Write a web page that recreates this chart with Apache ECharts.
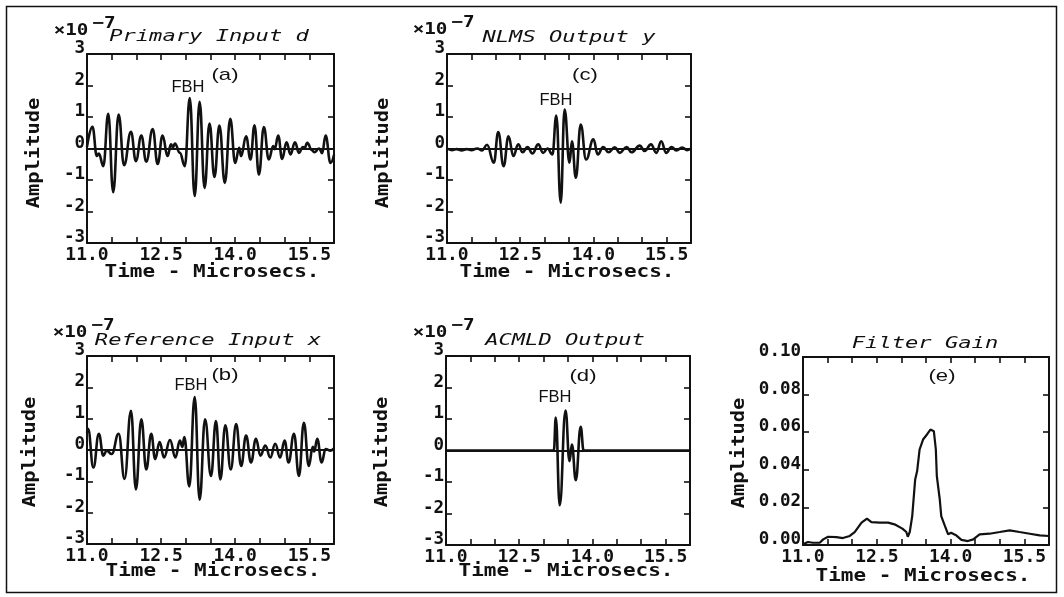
<!DOCTYPE html>
<html>
<head>
<meta charset="utf-8">
<title>Flat-bottom-hole echo: NLMS and ACMLD filtering</title>
<script src="https://cdn.jsdelivr.net/npm/echarts/dist/echarts.min.js"></script>
<style>
html, body { margin: 0; padding: 0; background: #fff; }
#chart { width: 1064px; height: 597px; }
</style>
</head>
<body>
<div id="chart"></div>
<script>
// ---- data -------------------------------------------------------------
// time axis in microseconds
const timeRange = [11.0, 16.0];
const timeTickStep = 0.5;
const timeLabels = [11.0, 12.5, 14.0, 15.5];
// amplitude axis, units of 1e-7
const ampRange = [-3, 3];
const ampTickStep = 1;
// filter gain axis
const gainRange = [0, 0.10];
const gainTickStep = 0.02;

// waveforms [time, amplitude x1e-7], taken at successive peaks and troughs
const primaryInputD = [
  [11.00, 0.05], [11.11, 0.69], [11.20, -0.24], [11.24, -0.16], [11.33, -0.56],
  [11.43, 1.10], [11.53, -1.39], [11.64, 1.08], [11.75, -0.53], [11.89, 0.53],
  [11.99, -0.40], [12.10, 0.41], [12.20, -0.42], [12.33, 0.62], [12.43, -0.49],
  [12.53, 0.41], [12.63, -0.24], [12.70, 0.13], [12.74, 0.04], [12.78, 0.16],
  [12.88, -0.14], [12.98, -0.56], [13.08, 1.60], [13.18, -1.51], [13.28, 1.48],
  [13.38, -1.25], [13.48, 0.79], [13.58, -0.90], [13.68, 0.73], [13.79, -1.09],
  [13.90, 0.94], [14.00, -0.46], [14.08, 0.02], [14.12, -0.24], [14.22, 0.39],
  [14.31, -0.35], [14.39, 0.74], [14.48, -0.83], [14.58, 0.68], [14.68, -0.35],
  [14.77, 0.08], [14.80, -0.02], [14.87, 0.41], [14.95, -0.33], [15.04, 0.20],
  [15.12, -0.19], [15.21, 0.20], [15.29, -0.14], [15.37, 0.05], [15.40, 0.00],
  [15.46, 0.18], [15.55, -0.05], [15.60, -0.12], [15.70, 0.00], [15.76, -0.15],
  [15.83, 0.41], [15.93, -0.46], [16.00, -0.20]
];

const referenceInputX = [
  [11.00, 0.55], [11.02, 0.68], [11.13, -0.56], [11.24, 0.52], [11.33, -0.18],
  [11.40, -0.02], [11.50, -0.13], [11.64, 0.52], [11.76, -0.92], [11.89, 1.25],
  [11.99, -1.26], [12.10, 0.98], [12.20, -0.62], [12.30, 0.52], [12.38, -0.29],
  [12.47, 0.25], [12.56, -0.24], [12.68, 0.32], [12.79, -0.24], [12.88, 0.30],
  [12.93, 0.10], [12.97, 0.41], [13.07, -1.16], [13.18, 1.69], [13.28, -1.59],
  [13.39, 0.98], [13.51, -0.83], [13.61, 0.92], [13.70, -0.94], [13.80, 0.79],
  [13.91, -0.62], [14.02, 0.83], [14.12, -0.51], [14.22, 0.46], [14.32, -0.40],
  [14.42, 0.36], [14.51, -0.18], [14.61, 0.14], [14.71, -0.24], [14.81, 0.20],
  [14.91, -0.24], [15.00, 0.30], [15.08, -0.40], [15.19, 0.52], [15.29, -0.83],
  [15.39, 0.87], [15.49, -0.51], [15.57, 0.10], [15.60, -0.05], [15.66, 0.36],
  [15.75, -0.40], [15.83, 0.03], [15.93, -0.02], [16.00, 0.05]
];

const nlmsOutputY = [
  [11.00, 0.00], [11.10, -0.05], [11.20, -0.02], [11.30, -0.06], [11.40, -0.02],
  [11.50, -0.05], [11.62, 0.00], [11.72, -0.06], [11.82, 0.12], [11.96, -0.45],
  [12.05, 0.52], [12.16, -0.56], [12.26, 0.39], [12.36, -0.24], [12.46, 0.13],
  [12.55, -0.12], [12.65, 0.05], [12.75, -0.16], [12.87, 0.13], [12.97, -0.14],
  [13.06, 0.00], [13.16, -0.19], [13.24, 1.05], [13.33, -1.72], [13.41, 1.24],
  [13.51, -0.45], [13.56, 0.23], [13.64, -0.93], [13.74, 0.76], [13.85, -0.35],
  [14.00, 0.29], [14.09, -0.19], [14.20, 0.05], [14.31, -0.12], [14.44, 0.04],
  [14.54, -0.14], [14.68, 0.05], [14.78, -0.12], [14.95, 0.09], [15.05, -0.08],
  [15.18, 0.13], [15.29, -0.14], [15.39, 0.23], [15.49, -0.14], [15.60, 0.05],
  [15.70, -0.06], [15.82, 0.03], [15.92, -0.05], [16.00, 0.00]
];

const acmldOutput = [
  [11.00, 0.00], [13.21, 0.00], [13.25, 1.05], [13.33, -1.74], [13.45, 1.27],
  [13.53, -0.34], [13.58, 0.19], [13.66, -0.94], [13.76, 0.75], [13.82, 0.00],
  [16.00, 0.00]
];

// filter gain [time, gain]
const filterGain = [
  [11.00, 0.0004], [11.10, 0.0016], [11.20, 0.0012], [11.34, 0.0012], [11.41, 0.0030],
  [11.51, 0.0044], [11.68, 0.0042], [11.81, 0.0037], [11.95, 0.0048], [12.05, 0.0069],
  [12.19, 0.0119], [12.30, 0.0140], [12.39, 0.0122], [12.56, 0.0119], [12.73, 0.0119],
  [12.86, 0.0110], [13.02, 0.0087], [13.10, 0.0069], [13.13, 0.0044], [13.17, 0.0069],
  [13.22, 0.0154], [13.28, 0.0349], [13.32, 0.0393], [13.37, 0.0508], [13.44, 0.0561],
  [13.52, 0.0588], [13.59, 0.0614], [13.66, 0.0605], [13.70, 0.0508], [13.72, 0.0366],
  [13.78, 0.0242], [13.81, 0.0154], [13.88, 0.0104], [13.95, 0.0057], [14.01, 0.0065],
  [14.12, 0.0050], [14.22, 0.0027], [14.35, 0.0021], [14.46, 0.0030], [14.59, 0.0057],
  [14.79, 0.0060], [15.00, 0.0069], [15.20, 0.0078], [15.40, 0.0069], [15.61, 0.0060],
  [15.81, 0.0051], [16.00, 0.0048]
];

// ---- layout -----------------------------------------------------------
const INK = '#111';
const MONO = '"DejaVu Sans Mono", "Liberation Mono", monospace';
const SANS = '"Liberation Sans", Arial, sans-serif';
const WIDE = 1.34; // horizontal stretch of the plotter lettering

const panels = [
  { title: 'Primary Input d',   tag: '(a)', data: primaryInputD,   gain: false,
    box: [87, 54, 247, 189],  titleAt: [209, 37],  tagAt: [225, 75],  fbhAt: [188, 87],
    xNameAt: [212, 272], yNameAt: [35, 153], expAt: [71, 31] },
  { title: 'NLMS Output y',     tag: '(c)', data: nlmsOutputY,     gain: false,
    box: [447, 54, 244, 189], titleAt: [569, 38],  tagAt: [585, 75],  fbhAt: [556, 100],
    xNameAt: [567, 272], yNameAt: [384, 153], expAt: [430, 30] },
  { title: 'Reference Input x', tag: '(b)', data: referenceInputX, gain: false,
    box: [87, 356, 247, 188], titleAt: [208, 341], tagAt: [225, 375], fbhAt: [191, 385],
    xNameAt: [213, 571], yNameAt: [31, 452], expAt: [70, 333] },
  { title: 'ACMLD Output',      tag: '(d)', data: acmldOutput,     gain: false,
    box: [446, 356, 244, 189], titleAt: [565, 341], tagAt: [583, 376], fbhAt: [555, 397],
    xNameAt: [566, 571], yNameAt: [383, 452], expAt: [430, 333] },
  { title: 'Filter Gain',       tag: '(e)', data: filterGain,      gain: true,
    box: [803, 357, 246, 188], titleAt: [925, 344], tagAt: [942, 376], fbhAt: null,
    xNameAt: [923, 576], yNameAt: [740, 453], expAt: null }
];

const axisLine = { show: true, onZero: false, lineStyle: { color: INK, width: 2 } };
const axisTick = { show: true, inside: true, length: 6, lineStyle: { color: INK, width: 1.6 } };

const grids = [], xAxes = [], yAxes = [], series = [], graphics = [];

function text(x, y, str, font, extra) {
  return Object.assign({
    type: 'text', x: x, y: y, silent: true, scaleX: WIDE,
    style: Object.assign({
      text: str, fill: INK, align: 'center', verticalAlign: 'middle',
      fontFamily: MONO, fontSize: 16
    }, font)
  }, extra || {});
}

panels.forEach((p, g) => {
  grids.push({ left: p.box[0], top: p.box[1], width: p.box[2], height: p.box[3], containLabel: false });

  const xCommon = {
    type: 'value', gridIndex: g, min: timeRange[0], max: timeRange[1], interval: timeTickStep,
    splitLine: { show: false }, axisLine: axisLine, axisTick: axisTick
  };
  xAxes.push(Object.assign({}, xCommon, {
    position: 'bottom',
    axisLabel: {
      show: true, margin: 3, color: INK, fontFamily: MONO, fontSize: 18, fontWeight: 'bold',
      showMinLabel: true, showMaxLabel: true,
      formatter: v => timeLabels.some(t => Math.abs(t - v) < 1e-6) ? v.toFixed(1) : ''
    }
  }));
  xAxes.push(Object.assign({}, xCommon, { position: 'top', axisLabel: { show: false } }));

  const yr = p.gain ? gainRange : ampRange;
  const yCommon = {
    type: 'value', gridIndex: g, min: yr[0], max: yr[1],
    interval: p.gain ? gainTickStep : ampTickStep,
    splitLine: { show: false }, axisLine: axisLine, axisTick: axisTick
  };
  yAxes.push(Object.assign({}, yCommon, {
    position: 'left',
    axisLabel: {
      show: true, margin: 2, color: INK, fontFamily: MONO, fontSize: 17.5, fontWeight: 'bold',
      verticalAlign: 'bottom', lineHeight: 11, showMinLabel: true, showMaxLabel: true,
      formatter: v => p.gain ? v.toFixed(2) : String(Math.round(v))
    }
  }));
  yAxes.push(Object.assign({}, yCommon, { position: 'right', axisLabel: { show: false } }));

  const s = {
    type: 'line', name: p.title, xAxisIndex: 2 * g, yAxisIndex: 2 * g,
    data: p.data, symbol: 'none', showSymbol: false, animation: false,
    lineStyle: { color: INK, width: 2.6 }, clip: true
  };
  if (!p.gain) {
    s.smooth = 0.45;
    s.smoothMonotone = 'x';
    s.markLine = {
      silent: true, animation: false, symbol: ['none', 'none'], label: { show: false },
      lineStyle: { color: INK, width: 2, type: 'solid' }, data: [{ yAxis: 0 }]
    };
  } else {
    s.lineStyle.width = 2.2;
  }
  series.push(s);

  // panel title, tag, axis names
  graphics.push(text(p.titleAt[0], p.titleAt[1], p.title, { fontStyle: 'italic', fontSize: 16.5 }));
  graphics.push(text(p.tagAt[0], p.tagAt[1], p.tag, { fontFamily: SANS, fontSize: 17 }, { scaleX: 1.3 }));
  if (p.fbhAt) {
    graphics.push(text(p.fbhAt[0], p.fbhAt[1], 'FBH', { fontFamily: SANS, fontSize: 16.5 }, { scaleX: 1 }));
  }
  graphics.push(text(p.xNameAt[0], p.xNameAt[1], 'Time - Microsecs.', { fontSize: 17.5, fontWeight: 'bold' }, { scaleX: 1.2 }));
  graphics.push(text(p.yNameAt[0], p.yNameAt[1], 'Amplitude', { fontSize: 17, fontWeight: 'bold' }, { scaleX: 1.2, rotation: Math.PI / 2 }));
  if (p.expAt) {
    graphics.push(text(p.expAt[0], p.expAt[1], '×10', { fontSize: 16, fontWeight: 'bold' }, { scaleX: 1.2 }));
    graphics.push(text(p.expAt[0] + 33, p.expAt[1] - 7, '−7', { fontSize: 16, fontWeight: 'bold' }, { scaleX: 1.2 }));
  }
});

// outer frame of the figure
graphics.push({
  type: 'rect', silent: true, z: -1,
  shape: { x: 6.5, y: 6.5, width: 1050, height: 586 },
  style: { fill: 'none', stroke: INK, lineWidth: 1.5 }
});

const chart = echarts.init(document.getElementById('chart'), null, { renderer: 'canvas' });
chart.setOption({
  backgroundColor: '#fff',
  animation: false,
  grid: grids,
  xAxis: xAxes,
  yAxis: yAxes,
  series: series,
  graphic: graphics
});
</script>
</body>
</html>
